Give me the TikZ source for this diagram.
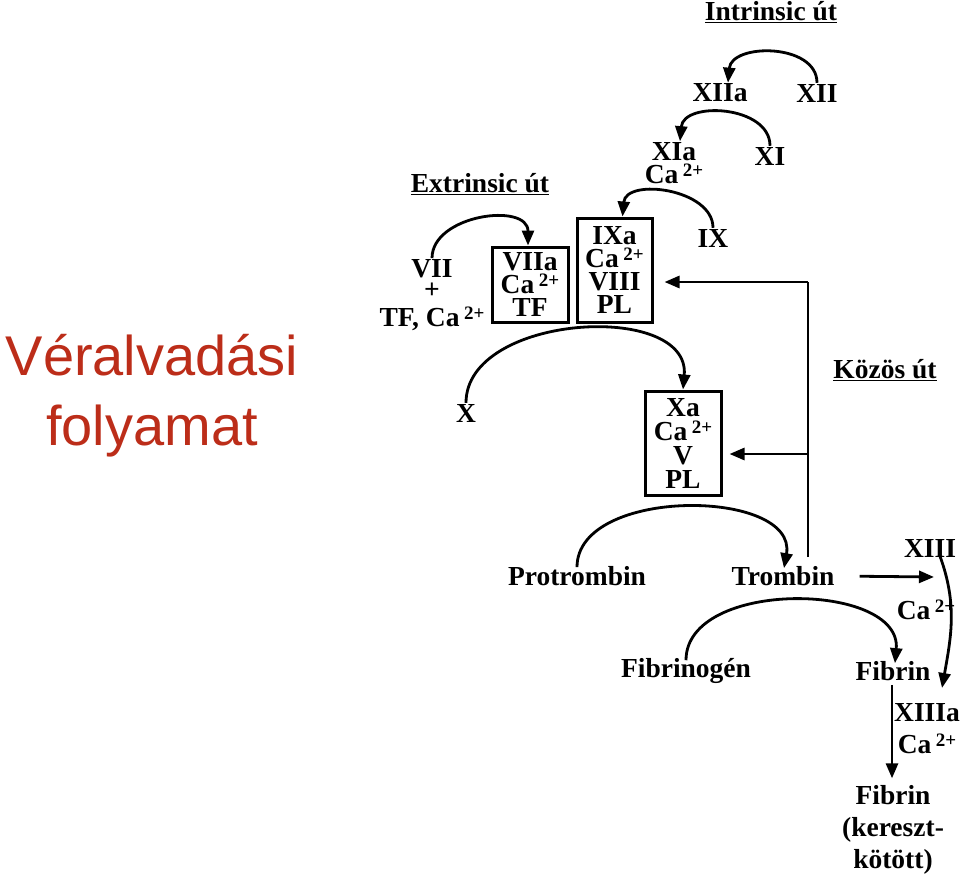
\documentclass[tikz,border=0pt]{standalone}
\usepackage{fontspec}
\setmainfont{Liberation Serif}
\newfontfamily\titlefont{Liberation Sans}
\usetikzlibrary{arrows.meta}
\definecolor{titlered}{RGB}{188,45,25}
\newcommand{\ca}{Ca\,\raisebox{0.55ex}{\fontsize{19}{19}\selectfont 2+}}

\begin{document}
\begin{tikzpicture}[x=1pt, y=-1pt,
  >={Triangle[length=15pt,width=12pt]},
  lbl/.style={font=\fontsize{27.5}{23}\selectfont\bfseries, inner sep=1pt, align=center},
  box/.style={lbl, draw, line width=3pt, inner sep=0pt},
  conn/.style={->, line width=2.8pt},
  plain/.style={line width=2.8pt},
  title/.style={font=\titlefont\fontsize{56}{70}\selectfont, text=titlered, align=center}
]
\useasboundingbox (0,0) rectangle (960,880);

% title
\node[title] (title) at (152,396) {Véralvadási\\folyamat};

% headings
\node[lbl] (intrinsic) at (771,12) {\underline{Intrinsic út}};
\node[lbl] (extrinsic) at (480,184) {\underline{Extrinsic út}};
\node[lbl] (kozos) at (885,370) {\underline{Közös út}};

% intrinsic path
\node[lbl] (xii) at (817,93) {XII};
\node[lbl] (xiia) at (720,93) {XIIa};
\node[lbl] (xi) at (770,156) {XI};
\node[lbl] (xia) at (674,163) {XIa\\\ca};
\node[lbl] (ix) at (713,238) {IX};
\node[box, minimum width=75pt, minimum height=104pt] (ixa) at (614.5,270) {IXa\\\ca\\VIII\\PL};

% extrinsic path
\node[lbl, font=\fontsize{27.5}{21}\selectfont\bfseries] (vii) at (432,295) {VII\\+\\[7pt]TF, \ca};
\node[box, minimum width=76pt, minimum height=75pt] (viia) at (530,284.5) {VIIa\\\ca\\TF};

% common path
\node[lbl] (x) at (466,413) {X};
\node[box, minimum width=76pt, minimum height=104pt, font=\fontsize{27.5}{24}\selectfont\bfseries] (xa) at (683,443) {Xa\\\ca\\V\\PL};
\node[lbl] (protrombin) at (577,576) {Protrombin};
\node[lbl] (trombin) at (783,576) {Trombin};
\node[lbl] (fibrinogen) at (686,671) {Fibrinogén};
\node[lbl] (fibrin) at (893,671) {Fibrin};
\node[lbl] (xiii) at (930,548) {XIII};
\node[lbl] (caxiii) at (926,610) {\ca};
\node[lbl, font=\fontsize{27.5}{32}\selectfont\bfseries] (xiiia) at (927,729) {XIIIa\\\ca};
\node[lbl, font=\fontsize{27.5}{32}\selectfont\bfseries] (fibrinx) at (893,830) {Fibrin\\(kereszt-\\kötött)};

\coordinate (j0) at (808,557);
\coordinate (j1) at (808,282);
\coordinate (j2) at (808,454);
\coordinate (xiiiarr) at (934,577);
\coordinate (xiiiend) at (942,688);

% activation arcs
\draw[conn] (xii.north) to[out=90, in=85, looseness=1.15] ([xshift=8pt]xiia.north);
\draw[conn] (xi.north) to[out=90, in=85, looseness=1.15] ([xshift=6pt]xia.north);
\draw[conn] (ix.north) to[out=90, in=85, looseness=1.1] ([xshift=8pt]ixa.north);
\draw[conn] (vii.north) to[out=90, in=90, looseness=1.15] ([xshift=-2pt]viia.north);
\draw[conn] (x.north) to[out=90, in=85, looseness=1.05] (xa.north);
\draw[conn] ([yshift=-2pt]protrombin.north) to[out=90, in=80, looseness=1] ([xshift=1pt, yshift=-3pt]trombin.north);
\draw[conn] ([yshift=-3pt]fibrinogen.north) to[out=90, in=85, looseness=1] ([xshift=2pt, yshift=-3pt]fibrin.north);

% thrombin feedback
\draw[plain] (j0) -- (j1);
\draw[conn, shorten >=11pt] (j1) -- (j1 -| ixa.east);
\draw[conn, shorten >=7pt] (j2) -- (j2 -| xa.east);

% factor XIII
\draw[conn, shorten <=24pt] (trombin.east) -- (xiiiarr);
\draw[conn] ([xshift=10pt, yshift=2pt]xiii.south) to[out=-70, in=80] (xiiiend);
\draw[conn, shorten <=3pt, shorten >=6pt] ([xshift=-1pt]fibrin.south) -- ([xshift=-1pt]fibrinx.north);

\end{tikzpicture}
\end{document}
